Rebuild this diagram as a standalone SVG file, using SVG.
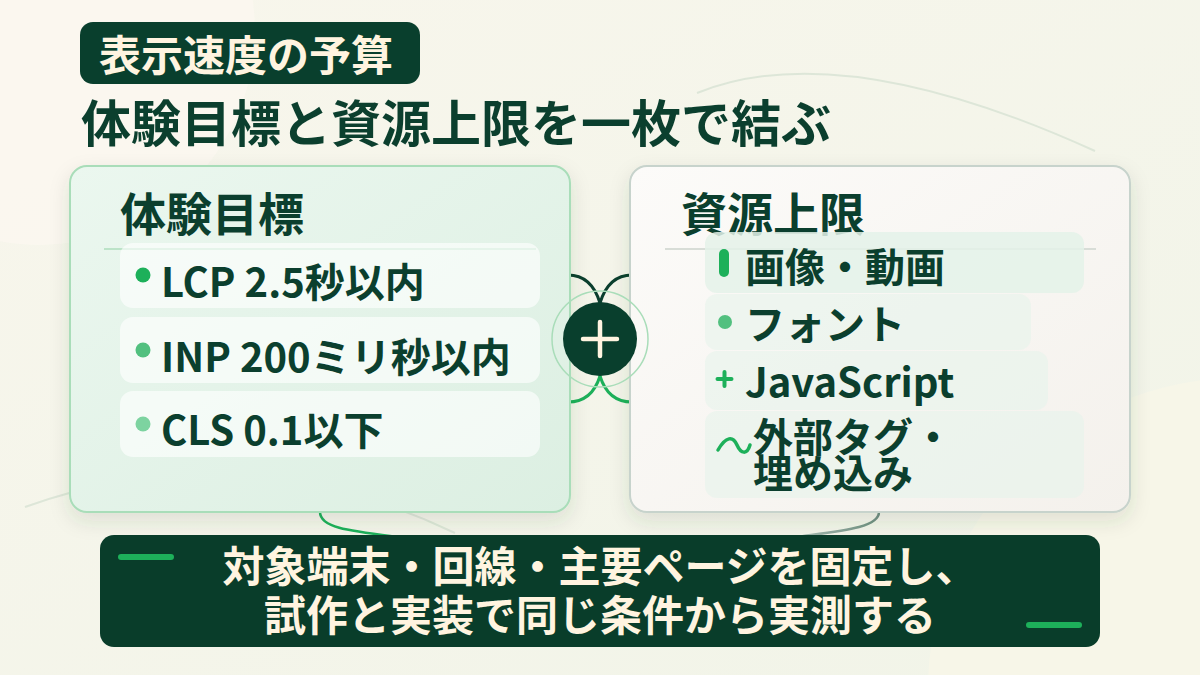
<svg xmlns="http://www.w3.org/2000/svg" width="1200" height="675" viewBox="0 0 1200 675">
  <defs>
    <linearGradient id="bg" x1="0" y1="0" x2="1" y2="1">
      <stop offset="0" stop-color="#F8F6EC"/>
      <stop offset="1" stop-color="#F1F4E8"/>
    </linearGradient>
    <linearGradient id="gLeft" x1="0" y1="0" x2="1" y2="1">
      <stop offset="0" stop-color="#EBF7EF"/>
      <stop offset="1" stop-color="#DCEFE2"/>
    </linearGradient>
    <linearGradient id="gRight" x1="0" y1="0" x2="1" y2="1">
      <stop offset="0" stop-color="#FCFBF9"/>
      <stop offset="1" stop-color="#F4F1EC"/>
    </linearGradient>
    <linearGradient id="gConR" x1="0" y1="0" x2="1" y2="0">
      <stop offset="0" stop-color="#A9BDB3"/>
      <stop offset="1" stop-color="#6E8E80"/>
    </linearGradient>
    <filter id="shadow" x="-10%" y="-10%" width="120%" height="130%">
      <feDropShadow dx="0" dy="8" stdDeviation="10" flood-color="#3A4A30" flood-opacity="0.12"/>
    </filter>
    <style>
      text { font-family: "Noto Sans CJK JP", "Noto Sans", sans-serif; font-weight: 700; }
      .dark { fill: #0B3F2E; }
      .cream { fill: #FFF4E0; }
      .item { font-size: 40px; fill: #0B3F2E; }
      .ptitle { font-size: 46px; fill: #0B3F2E; }
      .litem { fill: #FFFFFF; fill-opacity: 0.62; }
      .ritem { fill: #E6F3EB; fill-opacity: 0.6; }
      .bgline { fill: none; stroke: #DDE6D8; stroke-width: 2; }
      .dash { stroke: #1DB05A; stroke-width: 6; stroke-linecap: round; }
    </style>
  </defs>

  <g id="background">
    <rect width="1200" height="675" fill="url(#bg)"/>
    <circle cx="40" cy="30" r="215" fill="#FBF8F0" opacity="0.8"/>
    <circle cx="1240" cy="690" r="312" fill="#F7F6E8"/>
    <path class="bgline" d="M697,93 Q840,35 1095,151"/>
    <path class="bgline" d="M25,507 Q240,430 455,533"/>
  </g>

  <g id="header">
    <rect x="80" y="22" width="340" height="62" rx="13" fill="#093F2D"/>
    <text x="99" y="71" font-size="42" class="cream">表示速度の予算</text>
  </g>

  <g id="title">
    <text x="81" y="142" font-size="50" class="dark">体験目標と資源上限を一枚で結ぶ</text>
  </g>

  <g id="connectors" fill="none" stroke-linecap="round">
    <path d="M568,275 C588,275 596,290 600,303" stroke="#0B3F2E" stroke-width="3"/>
    <path d="M632,275 C612,275 604,290 600,303" stroke="#0B3F2E" stroke-width="3"/>
    <path d="M600,376 C596,389 588,402 568,402" stroke="#1DB05A" stroke-width="3"/>
    <path d="M600,376 C604,389 612,402 632,402" stroke="#1DB05A" stroke-width="3"/>
    <path d="M320,512 C320,528 350,531 398,537" stroke="#1DB05A" stroke-width="2.5"/>
    <path d="M879,512 C879,528 840,531 796,537" stroke="url(#gConR)" stroke-width="2.5"/>
  </g>

  <g id="panel-goals">
    <rect x="70" y="166" width="500" height="346" rx="17" fill="url(#gLeft)" stroke="#A9DDB9" stroke-width="2" filter="url(#shadow)"/>
    <text x="120" y="231" class="ptitle">体験目標</text>
    <line x1="104" y1="249" x2="536" y2="249" stroke="#BCE3C8" stroke-width="2"/>
    <rect x="120" y="243" width="420" height="65" rx="13" class="litem"/>
    <rect x="120" y="317" width="420" height="66" rx="13" class="litem"/>
    <rect x="120" y="391" width="420" height="66" rx="13" class="litem"/>
    <circle cx="143" cy="275" r="7.5" fill="#1DB05A"/>
    <circle cx="143" cy="350" r="7.5" fill="#52C07F"/>
    <circle cx="143" cy="424" r="7.5" fill="#7DD3A0"/>
    <text x="161" y="297" class="item">LCP 2.5秒以内</text>
    <text x="161" y="372" class="item">INP 200ミリ秒以内</text>
    <text x="161" y="445" class="item">CLS 0.1以下</text>
  </g>

  <g id="panel-resources">
    <rect x="630" y="166" width="500" height="346" rx="17" fill="url(#gRight)" stroke="#C7D3CC" stroke-width="2" filter="url(#shadow)"/>
    <text x="681" y="231" class="ptitle">資源上限</text>
    <line x1="665" y1="249" x2="1096" y2="249" stroke="#D8DDD7" stroke-width="2"/>
    <rect x="705" y="232" width="379" height="61" rx="12" fill="#E4F2E9" fill-opacity="0.85"/>
    <rect x="705" y="294" width="326" height="56" rx="12" class="ritem"/>
    <rect x="705" y="351" width="343" height="59" rx="12" class="ritem"/>
    <rect x="705" y="411" width="379" height="87" rx="12" class="ritem"/>
    <rect x="719" y="249" width="10" height="28" rx="5" fill="#1DB05A"/>
    <circle cx="725" cy="322" r="7" fill="#52C07F"/>
    <path d="M717.5,379 H731.5 M724.5,372 V386" stroke="#1DB05A" stroke-width="4" stroke-linecap="round" fill="none"/>
    <path d="M718,450 C726,436 733,436 737,445 C741,454 747,455 750,445" stroke="#1DB05A" stroke-width="3.5" stroke-linecap="round" fill="none"/>
    <text x="745" y="282" class="item">画像・動画</text>
    <text x="745" y="339" class="item">フォント</text>
    <text x="745" y="397" class="item">JavaScript</text>
    <text x="753" y="452" class="item">外部タグ・</text>
    <text x="753" y="488" class="item">埋め込み</text>
  </g>

  <g id="hub">
    <circle cx="600" cy="339" r="48" fill="none" stroke="#A9DDB9" stroke-width="1.5"/>
    <circle cx="600" cy="339" r="37" fill="#093F2D"/>
    <path d="M583,339 H617 M600,322 V356" stroke="#FFF4E0" stroke-width="4.5" stroke-linecap="round" fill="none"/>
  </g>

  <g id="footer">
    <rect x="100" y="535" width="1000" height="112" rx="14" fill="#093D2A"/>
    <line x1="121" y1="557" x2="171" y2="557" class="dash"/>
    <line x1="1029" y1="625" x2="1079" y2="625" class="dash"/>
    <text x="600" y="582" font-size="42" text-anchor="middle" class="cream">対象端末・回線・主要ページを固定し、</text>
    <text x="600" y="631" font-size="42" text-anchor="middle" class="cream">試作と実装で同じ条件から実測する</text>
  </g>
</svg>
